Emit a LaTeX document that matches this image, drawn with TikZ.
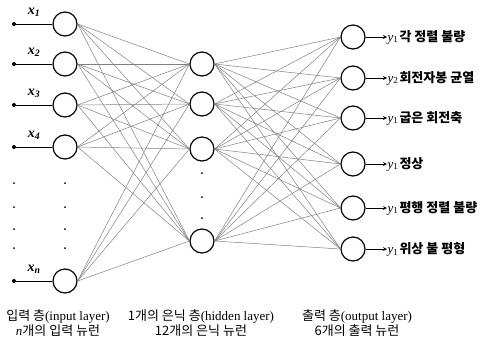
\documentclass[tikz,border=0pt]{standalone}
\usepackage{fontspec}
\setmainfont{Liberation Serif}
\newfontfamily\kr{Noto Sans CJK KR}
\usetikzlibrary{arrows}
\tikzstyle{arrow} = [line width=0.8pt,->,>=stealth]

\begin{document}
\begin{tikzpicture}[x=1pt, y=-1pt,
		main/.style= {draw, circle, line width=1.2pt, minimum size=24pt, inner sep=0pt},
		conn/.style= {gray, line width=0.5pt},
		dot/.style= {fill, circle, inner sep=0pt, minimum size=2pt},
		src/.style= {fill, circle, inner sep=0pt, minimum size=4pt},
		lbl/.style= {font = {\fontsize{13}{15}\selectfont}, align=center}
	]
	\useasboundingbox (0,0) rectangle (484,343);
	
	% input layer
	\foreach \a/\y/\t in {1/24/1, 2/64/2, 3/105/3, 4/147/4, 5/281/n}{
		\node (i\a) [main] at (65,\y) {};
		\node (s\a) [src] at (14,\y) {};
		\draw [line width=0.8pt] (s\a) -- (i\a);
		\node (x\a) [font = {\fontsize{14}{16}\selectfont\bfseries}] at (34,\y-12) {\itshape x\textsubscript{\t}};
	}
	\foreach \y [count=\k] in {183,207,229,248}{
		\node (dl\k) [dot] at (14,\y) {};
		\node (dr\k) [dot] at (65,\y) {};
	}
	
	% hidden layer
	\foreach \a/\y in {1/64, 2/104, 3/149, 4/241}{
		\node (h\a) [main] at (202,\y) {};
	}
	\foreach \y [count=\k] in {173,197,218}{
		\node (dh\k) [dot] at (202,\y) {};
	}
	
	% output layer
	\foreach \a/\y/\t/\s in {1/37/1/각 정렬 불량, 2/78/2/회전자봉 균열, 3/118/1/굽은 회전축,
		4/164/1/정상, 5/208/1/평행 정렬 불량, 6/249/1/위상 불 평형}{
		\node (o\a) [main] at (353,\y) {};
		\node (y\a) [anchor=west, inner sep=0.5pt, font = {\fontsize{13}{15}\selectfont}] at (387,\y) {{\itshape y}\textsubscript{\t}\kern1pt{\kr\bfseries \s}};
		\draw [arrow] (o\a) -- (y\a);
	}
	
	% connections
	\foreach \i in {1,...,5}{
		\foreach \h in {1,...,4}{
			\draw [conn] (i\i.east) -- (h\h.west);
		}
	}
	\foreach \h in {1,...,4}{
		\foreach \o in {1,...,6}{
			\draw [conn] (h\h.east) -- (o\o.west);
		}
	}
	
	% captions
	\node (c1) [lbl] at (58,323) {{\kr 입력 층}(input layer)\\{\itshape n}{\kr 개의 입력 뉴런}};
	\node (c2) [lbl] at (201,323) {{\kr 1개의 은닉 층}(hidden layer)\\{\kr 12개의 은닉 뉴런}};
	\node (c3) [lbl] at (357,323) {{\kr 출력 층}(output layer)\\{\kr 6개의 출력 뉴런}};
\end{tikzpicture}
\end{document}
